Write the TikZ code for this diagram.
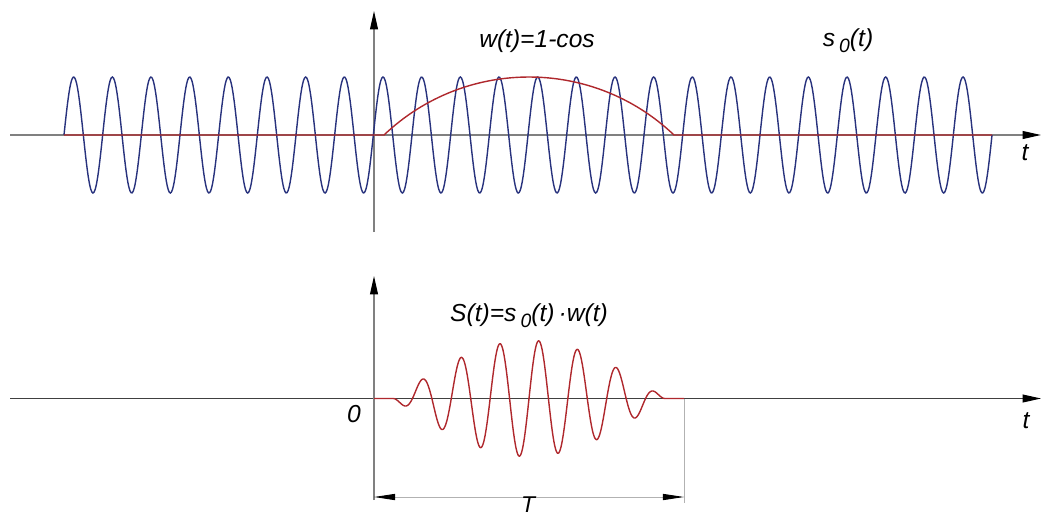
\documentclass[tikz,border=0pt]{standalone}
\usepackage{fontspec}
\setmainfont{Liberation Sans}
\usetikzlibrary{arrows.meta,positioning}
\definecolor{carrierblue}{RGB}{40,50,125}
\definecolor{burstred}{RGB}{175,40,45}

\begin{document}
\begin{tikzpicture}[
    x=0.02cm, y=0.02cm,
    axis/.style={draw=gray, line width=0.7pt, -{Triangle[length=10.5pt, width=4.5pt, color=black]}},
    carrier/.style={draw=carrierblue, line width=0.8pt},
    burst/.style={draw=burstred, line width=0.8pt},
    lbl/.style={font=\fontsize{14}{16}\selectfont\itshape, inner sep=0pt},
    dimline/.style={draw=gray!60, line width=0.5pt}
]
    \useasboundingbox (0,0) rectangle (1044,515);

    % Top plot: carrier and window
    \coordinate (xa1) at (10,380);
    \coordinate (xb1) at (1041,380);
    \coordinate (ya1) at (374,283);
    \coordinate (yb1) at (374,504);
    \draw[axis] (xa1) -- (xb1);
    \draw[axis] (ya1) -- (yb1);
    \draw[carrier] plot[domain=64:992, samples=900, smooth] (\x, {380+58*sin((\x-64)/38.667*360)});
    \draw[burst] (64,380) -- (384,380)
        arc[start angle=133.6, end angle=46.4, radius=4.206cm]
        -- (992,380);
    \node[lbl] (wlbl) at (537,474) {w(t)=1-cos};
    \node[lbl] (slbl) at (848,474) {s\,\raisebox{-0.45ex}{\fontsize{11}{12}\selectfont 0}(t)};
    \node[lbl] (t1) at (1025,362) {t};

    % Bottom plot: windowed burst
    \coordinate (xa2) at (10,116.5);
    \coordinate (xb2) at (1041,116.5);
    \coordinate (ya2) at (374,15);
    \coordinate (yb2) at (374,239);
    \draw[axis, draw=black!75, line width=0.6pt] (xa2) -- (xb2);
    \draw[axis] (ya2) -- (yb2);
    \draw[burst] (374,116.5) -- (393,116.5)
        -- plot[domain=393:665, samples=500, smooth] (\x, {116.5-58*sin((\x-393)/272*180)*sin((\x-393)/38.857*360)})
        -- (684,116.5);
    \node[lbl] (zero) at (354,101) {0};
    \node[lbl] (t2) at (1026,94) {t};
    \node[lbl] (Slbl) at (529,199) {S(t)=s\,\raisebox{-0.45ex}{\fontsize{11}{12}\selectfont 0}(t)\,\textperiodcentered w(t)};

    % Dimension T
    \coordinate (e1) at (684,116.5);
    \coordinate (e2) at (684,12);
    \coordinate (d1) at (374,18);
    \coordinate (d2) at (684,18);
    \draw[dimline] (e1) -- (e2);
    \draw[dimline, {Triangle[length=12pt, width=3.5pt, color=black]}-{Triangle[length=12pt, width=3.5pt, color=black]}] (d1) -- (d2);
    \node[lbl, anchor=north, font=\fontsize{13}{15}\selectfont\itshape] (Tlbl) at (528,18.5) {T};
\end{tikzpicture}
\end{document}
